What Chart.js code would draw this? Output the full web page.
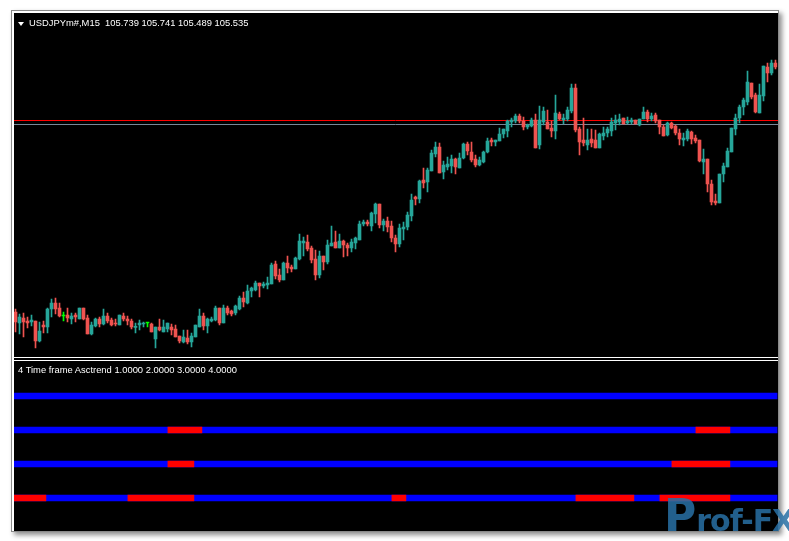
<!DOCTYPE html>
<html>
<head>
<meta charset="utf-8">
<title>USDJPYm#,M15</title>
<script src="https://cdn.jsdelivr.net/npm/chart.js@4.4.1/dist/chart.umd.min.js"></script>
<style>
    body { margin: 0; width: 789px; height: 541px; overflow: hidden; position: relative; background: #fff; font-family: "Liberation Sans", Arial, sans-serif; }
    #win { position: absolute; left: 11px; top: 10px; width: 766px; height: 520px; border: 1px solid #8a8a8a; background: #fff; box-shadow: 3px 3px 5px rgba(0,0,0,0.45); }
    #black { position: absolute; left: 14px; top: 13px; width: 764px; height: 518px; background: #000; }
    #edgeL { position: absolute; left: 13px; top: 12px; width: 1px; height: 519px; background: #fff; z-index: 5; }
    .sep { position: absolute; left: 14px; width: 764px; height: 1px; background: #fff; z-index: 5; }
    canvas { position: absolute; }
    #mainChart { left: 13px; top: 13px; }
    #subChart { left: 13px; top: 362px; }
    .lbl { position: absolute; color: #fff; font-size: 9.4px; line-height: 10px; white-space: pre; z-index: 6; }
    #tri { position: absolute; left: 18px; top: 22px; width: 0; height: 0; border-left: 3px solid transparent; border-right: 3px solid transparent; border-top: 4px solid #fff; z-index: 6; }
    #logo { position: absolute; left: 664px; top: 490px; color: rgba(40,112,165,0.85); font-family: "DejaVu Sans", sans-serif; font-weight: bold; white-space: nowrap; z-index: 7; }
    #logo .p { font-size: 44px; }
    #logo .r { font-size: 30px; letter-spacing: -1px; }
</style>
</head>
<body>
<div id="win"></div>
<div id="black"></div>
<div id="edgeL"></div>
<canvas id="mainChart" width="765" height="344"></canvas>
<div class="sep" style="top:357px"></div>
<div class="sep" style="top:360px"></div>
<canvas id="subChart" width="765" height="169"></canvas>
<div id="tri"></div>
<div class="lbl" id="mainTitle" style="left:29px; top:18px"></div>
<div class="lbl" id="subTitle" style="left:18px; top:365px"></div>
<div id="logo"><span class="p">P</span><span class="r">rof-FX</span></div>
<script>
// свечи USDJPY M15 (цены)
var opens = [104.505, 104.450, 104.475, 104.460, 104.455, 104.460, 104.360, 104.440, 104.430, 104.520,
    104.550, 104.525, 104.485, 104.490, 104.470, 104.490, 104.470, 104.525, 104.475, 104.395,
    104.435, 104.470, 104.445, 104.485, 104.465, 104.450, 104.440, 104.485, 104.470, 104.460,
    104.428, 104.440, 104.445, 104.450, 104.445, 104.370, 104.430, 104.405, 104.420, 104.430,
    104.420, 104.385, 104.355, 104.375, 104.355, 104.380, 104.430, 104.485, 104.435, 104.460,
    104.465, 104.525, 104.450, 104.525, 104.510, 104.500, 104.520, 104.575, 104.550, 104.610,
    104.615, 104.650, 104.635, 104.640, 104.645, 104.745, 104.690, 104.665, 104.750, 104.730,
    104.720, 104.770, 104.850, 104.855, 104.825, 104.770, 104.690, 104.785, 104.755, 104.835,
    104.855, 104.825, 104.860, 104.840, 104.825, 104.850, 104.865, 104.945, 104.955, 104.935,
    104.995, 105.045, 104.940, 104.960, 104.935, 104.875, 104.845, 104.920, 104.930, 104.985,
    105.080, 105.070, 105.165, 105.155, 105.210, 105.295, 105.330, 105.205, 105.230, 105.235,
    105.270, 105.225, 105.275, 105.345, 105.305, 105.270, 105.240, 105.255, 105.305, 105.365,
    105.355, 105.360, 105.395, 105.410, 105.455, 105.460, 105.485, 105.460, 105.430, 105.435,
    105.465, 105.340, 105.455, 105.455, 105.425, 105.410, 105.495, 105.465, 105.470, 105.510,
    105.625, 105.420, 105.365, 105.340, 105.370, 105.365, 105.325, 105.385, 105.400, 105.410,
    105.450, 105.455, 105.475, 105.450, 105.455, 105.465, 105.440, 105.470, 105.505, 105.470,
    105.490, 105.465, 105.430, 105.390, 105.450, 105.435, 105.400, 105.365, 105.370, 105.405,
    105.375, 105.365, 105.255, 105.270, 105.145, 105.060, 105.050, 105.195, 105.230, 105.305,
    105.420, 105.475, 105.530, 105.555, 105.650, 105.590, 105.500, 105.585, 105.730, 105.700,
    105.750];
var highs = [104.520, 104.495, 104.500, 104.480, 104.490, 104.460, 104.455, 104.460, 104.525, 104.570,
    104.575, 104.550, 104.505, 104.525, 104.500, 104.500, 104.525, 104.525, 104.490, 104.455,
    104.475, 104.480, 104.520, 104.500, 104.475, 104.470, 104.490, 104.500, 104.485, 104.470,
    104.450, 104.465, 104.455, 104.450, 104.450, 104.430, 104.470, 104.465, 104.450, 104.445,
    104.440, 104.385, 104.415, 104.415, 104.400, 104.440, 104.520, 104.500, 104.475, 104.480,
    104.535, 104.525, 104.540, 104.535, 104.515, 104.540, 104.585, 104.605, 104.640, 104.630,
    104.660, 104.650, 104.655, 104.680, 104.750, 104.760, 104.720, 104.755, 104.785, 104.740,
    104.780, 104.895, 104.880, 104.890, 104.835, 104.815, 104.810, 104.785, 104.865, 104.935,
    104.910, 104.895, 104.865, 104.850, 104.870, 104.880, 104.960, 104.965, 104.965, 105.005,
    105.050, 105.045, 104.970, 104.980, 104.960, 104.890, 104.945, 104.955, 105.005, 105.095,
    105.085, 105.165, 105.225, 105.225, 105.315, 105.355, 105.350, 105.260, 105.280, 105.290,
    105.275, 105.300, 105.350, 105.355, 105.355, 105.290, 105.280, 105.310, 105.375, 105.375,
    105.365, 105.425, 105.420, 105.465, 105.475, 105.495, 105.495, 105.480, 105.445, 105.475,
    105.495, 105.535, 105.530, 105.515, 105.460, 105.590, 105.505, 105.495, 105.530, 105.645,
    105.645, 105.430, 105.475, 105.420, 105.420, 105.415, 105.400, 105.430, 105.430, 105.475,
    105.490, 105.495, 105.475, 105.480, 105.475, 105.465, 105.470, 105.530, 105.515, 105.500,
    105.500, 105.465, 105.440, 105.455, 105.455, 105.440, 105.420, 105.400, 105.420, 105.410,
    105.390, 105.365, 105.320, 105.270, 105.165, 105.095, 105.195, 105.250, 105.325, 105.425,
    105.495, 105.540, 105.575, 105.710, 105.650, 105.600, 105.645, 105.735, 105.750, 105.765,
    105.765];
var lows = [104.405, 104.395, 104.380, 104.425, 104.435, 104.325, 104.355, 104.400, 104.400, 104.480,
    104.495, 104.480, 104.460, 104.455, 104.445, 104.455, 104.470, 104.465, 104.395, 104.390,
    104.430, 104.430, 104.440, 104.450, 104.435, 104.435, 104.440, 104.460, 104.440, 104.420,
    104.400, 104.415, 104.430, 104.430, 104.405, 104.325, 104.410, 104.405, 104.405, 104.390,
    104.380, 104.350, 104.350, 104.345, 104.330, 104.380, 104.430, 104.415, 104.400, 104.455,
    104.460, 104.440, 104.450, 104.490, 104.485, 104.490, 104.515, 104.530, 104.545, 104.580,
    104.610, 104.580, 104.625, 104.620, 104.645, 104.670, 104.655, 104.665, 104.700, 104.705,
    104.720, 104.765, 104.785, 104.810, 104.750, 104.665, 104.675, 104.715, 104.745, 104.835,
    104.825, 104.825, 104.780, 104.785, 104.805, 104.820, 104.865, 104.935, 104.935, 104.910,
    104.950, 104.925, 104.910, 104.905, 104.855, 104.805, 104.830, 104.865, 104.915, 104.960,
    105.040, 105.050, 105.125, 105.105, 105.210, 105.280, 105.200, 105.170, 105.215, 105.200,
    105.195, 105.225, 105.270, 105.290, 105.255, 105.230, 105.235, 105.250, 105.300, 105.335,
    105.335, 105.360, 105.375, 105.380, 105.430, 105.450, 105.450, 105.415, 105.420, 105.430,
    105.325, 105.320, 105.440, 105.420, 105.380, 105.370, 105.465, 105.445, 105.460, 105.500,
    105.405, 105.290, 105.335, 105.315, 105.330, 105.325, 105.325, 105.365, 105.380, 105.385,
    105.415, 105.440, 105.445, 105.445, 105.445, 105.445, 105.435, 105.470, 105.455, 105.460,
    105.450, 105.395, 105.385, 105.385, 105.420, 105.390, 105.340, 105.335, 105.360, 105.345,
    105.350, 105.255, 105.195, 105.105, 105.040, 105.040, 105.050, 105.155, 105.230, 105.305,
    105.390, 105.450, 105.490, 105.540, 105.570, 105.500, 105.500, 105.560, 105.655, 105.690,
    105.720];
var closes = [104.455, 104.480, 104.455, 104.450, 104.465, 104.360, 104.410, 104.430, 104.520, 104.550,
    104.520, 104.485, 104.485, 104.475, 104.485, 104.480, 104.525, 104.470, 104.395, 104.440,
    104.470, 104.445, 104.485, 104.460, 104.440, 104.445, 104.490, 104.470, 104.460, 104.430,
    104.430, 104.450, 104.450, 104.450, 104.405, 104.430, 104.415, 104.430, 104.450, 104.415,
    104.380, 104.360, 104.380, 104.355, 104.385, 104.440, 104.485, 104.435, 104.470, 104.470,
    104.525, 104.450, 104.525, 104.500, 104.495, 104.535, 104.575, 104.555, 104.610, 104.625,
    104.650, 104.635, 104.645, 104.650, 104.740, 104.685, 104.665, 104.750, 104.725, 104.720,
    104.775, 104.860, 104.860, 104.820, 104.765, 104.690, 104.785, 104.755, 104.840, 104.850,
    104.825, 104.860, 104.840, 104.825, 104.855, 104.875, 104.945, 104.955, 104.945, 105.000,
    105.045, 104.940, 104.960, 104.930, 104.875, 104.845, 104.925, 104.930, 104.990, 105.065,
    105.070, 105.160, 105.150, 105.215, 105.300, 105.330, 105.200, 105.240, 105.245, 105.270,
    105.230, 105.275, 105.345, 105.310, 105.265, 105.240, 105.265, 105.305, 105.360, 105.355,
    105.365, 105.395, 105.420, 105.460, 105.465, 105.485, 105.460, 105.430, 105.440, 105.465,
    105.325, 105.465, 105.510, 105.420, 105.410, 105.500, 105.470, 105.475, 105.515, 105.625,
    105.415, 105.355, 105.350, 105.365, 105.350, 105.325, 105.395, 105.400, 105.420, 105.455,
    105.465, 105.470, 105.445, 105.460, 105.465, 105.445, 105.470, 105.505, 105.470, 105.485,
    105.460, 105.430, 105.385, 105.450, 105.425, 105.400, 105.370, 105.375, 105.410, 105.370,
    105.360, 105.260, 105.270, 105.145, 105.055, 105.050, 105.195, 105.235, 105.310, 105.425,
    105.475, 105.530, 105.565, 105.655, 105.580, 105.505, 105.590, 105.735, 105.700, 105.750,
    105.730];

// горизонтальные уровни
var redLevel = 105.465;
var greyLevel = 105.445;
var priceMin = 104.280;
var priceMax = 106.000;

var mainTitle = "USDJPYm#,M15  105.739 105.741 105.489 105.535";
var subTitle = "4 Time frame Asctrend 1.0000 2.0000 3.0000 4.0000";

// линии индикатора сверху вниз и участки красного цвета (в номерах баров)
var trendLines = ["4", "3", "2", "1"];
var redRanges = [
    [],
    [[38.1, 46.6], [170.1, 178.6]],
    [[38.1, 44.6], [164.1, 178.6]],
    [[-0.5, 7.6], [28.1, 44.6], [94.1, 97.6], [140.1, 154.6], [161.1, 178.6]]
];

var upColor = "#26a69a";
var downColor = "#ef5350";
var dojiColor = "#00ff00";

document.addEventListener("DOMContentLoaded", letsgo);

function letsgo() {
    document.getElementById("mainTitle").textContent = mainTitle;
    document.getElementById("subTitle").textContent = subTitle;
    drawMainChart();
    drawSubChart();
}

/**
 * цвет свечи по open/close*/
function candleColor(i) {
    if (opens[i] === closes[i]) return dojiColor;
    return closes[i] > opens[i] ? upColor : downColor;
}

// рисует уровни под свечами
var levelLines = {
    id: 'levelLines',
    beforeDatasetsDraw: function (chart) {
        var ctx = chart.ctx;
        var area = chart.chartArea;
        var y = chart.scales.y;
        var levels = [[greyLevel, "#778899"], [redLevel, "#ff0000"]];
        ctx.save();
        for (var i = 0; i < levels.length; i++) {
            var py = Math.round(y.getPixelForValue(levels[i][0])) + 0.5;
            ctx.strokeStyle = levels[i][1];
            ctx.lineWidth = 1;
            ctx.beginPath();
            ctx.moveTo(area.left - 1, py);
            ctx.lineTo(area.right + 1, py);
            ctx.stroke();
        }
        ctx.restore();
    }
};

function drawMainChart() {
    const labels = [];
    const wicks = [];
    const bodies = [];
    const colors = [];
    for (var i = 0; i < opens.length; i++) {
        labels.push(String(i));
        wicks.push([lows[i], highs[i]]);
        bodies.push([opens[i], closes[i]]);
        colors.push(candleColor(i));
    }
    const config = {
        type: 'bar',
        data: {
            labels: labels,
            datasets: [{
                data: wicks,
                backgroundColor: colors,
                barThickness: 1,
                grouped: false,
                order: 2
            }, {
                data: bodies,
                backgroundColor: colors,
                barThickness: 3,
                minBarLength: 1,
                grouped: false,
                order: 1
            }]
        },
        options: {
            responsive: false,
            animation: false,
            devicePixelRatio: 1,
            layout: { padding: { left: 0.5, right: 0.5, top: 0, bottom: 0 } },
            plugins: {
                legend: { display: false },
                tooltip: { enabled: false }
            },
            scales: {
                x: { display: false },
                y: { display: false, min: priceMin, max: priceMax }
            }
        },
        plugins: [levelLines]
    };
    new Chart(document.getElementById('mainChart'), config);
}

function drawSubChart() {
    const datasets = [{
        data: trendLines.map(function () { return [-0.5, opens.length - 0.5]; }),
        backgroundColor: "#0000ff",
        barThickness: 6,
        grouped: false,
        order: 10
    }];
    var maxParts = 0;
    for (var k = 0; k < redRanges.length; k++) {
        maxParts = Math.max(maxParts, redRanges[k].length);
    }
    for (var p = 0; p < maxParts; p++) {
        datasets.push({
            data: redRanges.map(function (r) { return r[p] || null; }),
            backgroundColor: "#ff0000",
            barThickness: 6,
            grouped: false,
            order: 1
        });
    }
    new Chart(document.getElementById('subChart'), {
        type: 'bar',
        data: { labels: trendLines, datasets: datasets },
        options: {
            indexAxis: 'y',
            responsive: false,
            animation: false,
            devicePixelRatio: 1,
            layout: { padding: { left: 0.5, right: 0.5, top: 17, bottom: 16 } },
            plugins: {
                legend: { display: false },
                tooltip: { enabled: false }
            },
            scales: {
                x: { display: false, min: -0.5, max: opens.length - 0.5 },
                y: { display: false }
            }
        }
    });
}
</script>
</body>
</html>
